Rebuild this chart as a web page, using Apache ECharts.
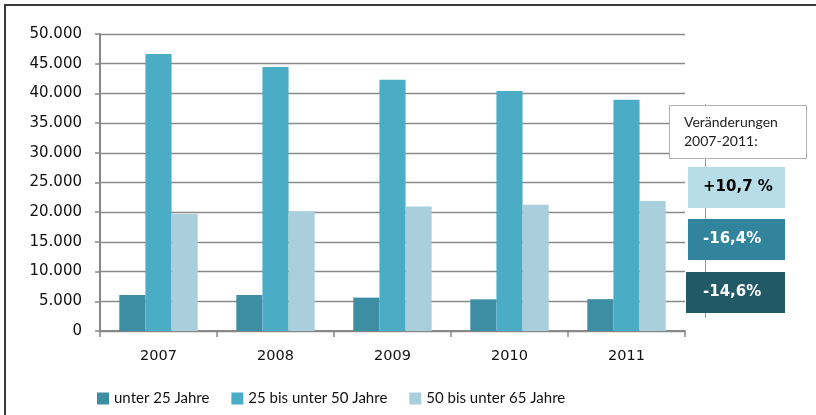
<!DOCTYPE html>
<html>
<head>
<meta charset="utf-8">
<script src="https://cdn.jsdelivr.net/npm/echarts@6/dist/echarts.min.js"></script>
<style>
html,body{margin:0;padding:0;background:#fff;overflow:hidden;}
#frame{position:absolute;left:4px;top:4px;width:840px;height:440px;border:2px solid #3a3a3a;box-sizing:border-box;}
#chart{position:absolute;left:0;top:0;width:816px;height:415px;}
</style>
</head>
<body>
<div id="frame"></div>
<div id="chart"></div>
<script>
const categories = ['2007', '2008', '2009', '2010', '2011'];
const seriesNames = ['unter 25 Jahre', '25 bis unter 50 Jahre', '50 bis unter 65 Jahre'];
const unter25 = [6080, 6060, 5620, 5330, 5360];
const bis50 = [46650, 44450, 42300, 40400, 38950];
const bis65 = [19700, 20150, 20950, 21250, 21900];
const changeTitle = 'Veränderungen\n2007-2011:';
const changeLabels = ['+10,7 %', '-16,4%', '-14,6%'];

const colors = ['#3d8ea3', '#4bacc6', '#a9cfdd'];
const boxColors = ['#b7dde8', '#31849b', '#215967'];
const boxText = ['#000000', '#ffffff', '#ffffff'];
const font = 'DejaVu Sans, sans-serif';

const chart = echarts.init(document.getElementById('chart'), null, {renderer: 'canvas'});

const boxY = [167, 219, 272];
const graphics = [
  {type: 'line', shape: {x1: 705.5, y1: 104, x2: 705.5, y2: 318}, style: {stroke: '#9a9a9a', lineWidth: 1}, z: 1},
  {type: 'rect', shape: {x: 669.5, y: 105.5, width: 137, height: 53}, style: {fill: '#ffffff', stroke: '#b0b0b0', lineWidth: 1}, z: 2},
  {type: 'text', left: 684, top: 113, style: {text: changeTitle, font: '14px Lato', fill: '#222', lineHeight: 19}, z: 3}
];
changeLabels.forEach((t, i) => {
  graphics.push({type: 'rect', shape: {x: i === 2 ? 686 : 688, y: boxY[i], width: i === 2 ? 99 : 97, height: 41}, style: {fill: boxColors[i]}, z: 2});
  graphics.push({type: 'text', x: 703, y: boxY[i] + 20.5, style: {text: t, font: 'bold 15px ' + font, fill: boxText[i], verticalAlign: 'middle'}, z: 3});
});

chart.setOption({
  animation: false,
  color: colors,
  grid: {left: 100, right: 131, top: 34, bottom: 84},
  legend: {
    left: 92, top: 386,
    itemWidth: 12, itemHeight: 12, itemGap: 22,
    icon: 'rect',
    textStyle: {fontFamily: 'Lato', fontSize: 15, color: '#111'},
    data: seriesNames
  },
  xAxis: {
    type: 'category',
    data: categories,
    axisLine: {lineStyle: {color: '#888', width: 2}},
    axisTick: {show: true, length: 6, lineStyle: {color: '#888', width: 1.5}},
    axisLabel: {fontFamily: font, fontSize: 14.5, color: '#111', margin: 18}
  },
  yAxis: {
    type: 'value',
    min: 0, max: 50000, interval: 5000,
    axisLine: {show: true, lineStyle: {color: '#888', width: 2}},
    axisTick: {show: true, length: 5, lineStyle: {color: '#888', width: 1.5}},
    splitLine: {lineStyle: {color: '#8a8a8a', width: 1.3}},
    axisLabel: {
      fontFamily: font, fontSize: 15, color: '#111', margin: 18,
      formatter: v => v === 0 ? '0' : (v / 1000).toFixed(3)
    }
  },
  series: [
    {name: seriesNames[0], type: 'bar', data: unter25, barGap: '0%', barCategoryGap: '33%'},
    {name: seriesNames[1], type: 'bar', data: bis50, barGap: '0%', barCategoryGap: '33%'},
    {name: seriesNames[2], type: 'bar', data: bis65, barGap: '0%', barCategoryGap: '33%'}
  ],
  graphic: graphics
});
</script>
</body>
</html>
